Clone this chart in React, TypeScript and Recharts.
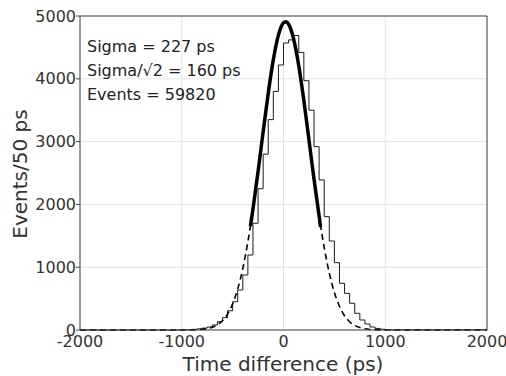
import { CartesianGrid, Label, Line, LineChart, ReferenceLine, XAxis, YAxis } from 'recharts'

// histogram: left edge of each 50 ps bin and its count
const binEdges = [
  -2000, -1050, -1000, -950, -900, -850, -800, -750, -700, -650, -600, -550, -500, -450, -400, -350,
  -300, -250, -200, -150, -100, -50, 0, 50, 100, 150, 200, 250, 300, 350, 400, 450, 500, 550, 600,
  650, 700, 750, 800, 850, 900, 950, 1000, 1050, 2000,
]
const binCounts = [
  0, 1, 3, 5, 10, 18, 30, 48, 80, 132, 196, 307, 451, 637, 876, 1194,
  1700, 2250, 2800, 3350, 3800, 4220, 4570, 4620, 4690, 4420, 3970, 3500, 2920, 2390, 1805, 1417, 1072, 744, 584,
  425, 266, 159, 96, 48, 25, 12, 6, 3, 0,
]

// gaussian fit, dashed over the full range
const fitX = [
  -2000, -1500, -1100, -1000, -950, -900, -850, -800, -750, -700, -650, -600, -550, -500, -450, -400, -350,
  -300, -250, -200, -150, -100, -50, 0, 25, 50, 100, 150, 200, 250, 300, 350, 400, 450, 500, 550, 600, 650,
  700, 750, 800, 850, 900, 950, 1000, 1100, 1500, 2000,
]
const fitY = [
  0, 0, 0, 0, 1, 2, 5, 11, 22, 43, 82, 147, 253, 416, 653, 980, 1407,
  1928, 2523, 3156, 3771, 4305, 4695, 4892, 4910, 4870, 4631, 4208, 3653, 3029, 2400, 1816, 1313, 907, 599, 378, 227, 131,
  72, 38, 19, 9, 4, 2, 1, 0, 0, 0,
]

// fitted region, thick solid
const coreX = [-325, -300, -250, -200, -150, -100, -50, 0, 25, 50, 100, 150, 200, 250, 300, 350, 364]
const coreY = [1653, 1928, 2523, 3156, 3771, 4305, 4695, 4892, 4910, 4870, 4631, 4208, 3653, 3029, 2400, 1816, 1640]

const xTicks = [-2000, -1000, 0, 1000, 2000]
const yTicks = [0, 1000, 2000, 3000, 4000, 5000]
const notes = ['Sigma = 227 ps', 'Sigma/√2 = 160 ps', 'Events = 59820']

const hist = binEdges.map((x, i) => ({ x, y: binCounts[i] }))
const fit = fitX.map((x, i) => ({ x, y: fitY[i] }))
const core = coreX.map((x, i) => ({ x, y: coreY[i] }))

const font = 'DejaVu Sans'
const ink = '#333'

export default function App() {
  return (
    <div style={{ position: 'absolute', left: 0, top: 0, width: 506, height: 376, fontFamily: font }}>
      <LineChart width={506} height={376} margin={{ top: 16, right: 19, bottom: 0, left: 0 }}>
        <CartesianGrid stroke="#e4e4e4" />
        <XAxis
          type="number"
          dataKey="x"
          domain={[-2000, 2000]}
          ticks={xTicks}
          height={46}
          tickLine={false}
          tickSize={4}
          tickMargin={2}
          axisLine={{ stroke: '#444' }}
          tick={{ fontSize: 16, fill: ink, fontFamily: font }}
        >
          <Label
            content={() => (
              <text x={283} y={371} textAnchor="middle" fontSize={20} fill={ink} fontFamily={font}>
                Time difference (ps)
              </text>
            )}
          />
        </XAxis>
        <YAxis
          type="number"
          domain={[0, 5000]}
          ticks={yTicks}
          width={80}
          tickSize={4}
          tickMargin={0}
          axisLine={{ stroke: '#444' }}
          tickLine={{ stroke: '#444' }}
          tick={{ fontSize: 16, fill: ink, fontFamily: font }}
        >
          <Label
            content={() => (
              <text
                x={27}
                y={174}
                transform="rotate(-90 27 174)"
                textAnchor="middle"
                fontSize={20}
                fill={ink}
                fontFamily={font}
              >
                Events/50 ps
              </text>
            )}
          />
        </YAxis>
        <ReferenceLine y={5000} stroke="#444" />
        <ReferenceLine x={2000} stroke="#444" />
        <Line
          data={hist}
          dataKey="y"
          type="stepAfter"
          stroke="#1a1a1a"
          strokeWidth={1}
          dot={false}
          isAnimationActive={false}
        />
        <Line
          data={fit}
          dataKey="y"
          type="monotone"
          stroke="#000"
          strokeWidth={1.6}
          strokeDasharray="6 4"
          dot={false}
          isAnimationActive={false}
        />
        <Line
          data={core}
          dataKey="y"
          type="monotone"
          stroke="#000"
          strokeWidth={3.5}
          dot={false}
          isAnimationActive={false}
        />
      </LineChart>
      <div
        style={{
          position: 'absolute',
          left: 87,
          top: 35,
          fontSize: 16,
          lineHeight: '24px',
          color: '#222',
        }}
      >
        {notes.map((n) => (
          <div key={n}>{n}</div>
        ))}
      </div>
    </div>
  )
}
